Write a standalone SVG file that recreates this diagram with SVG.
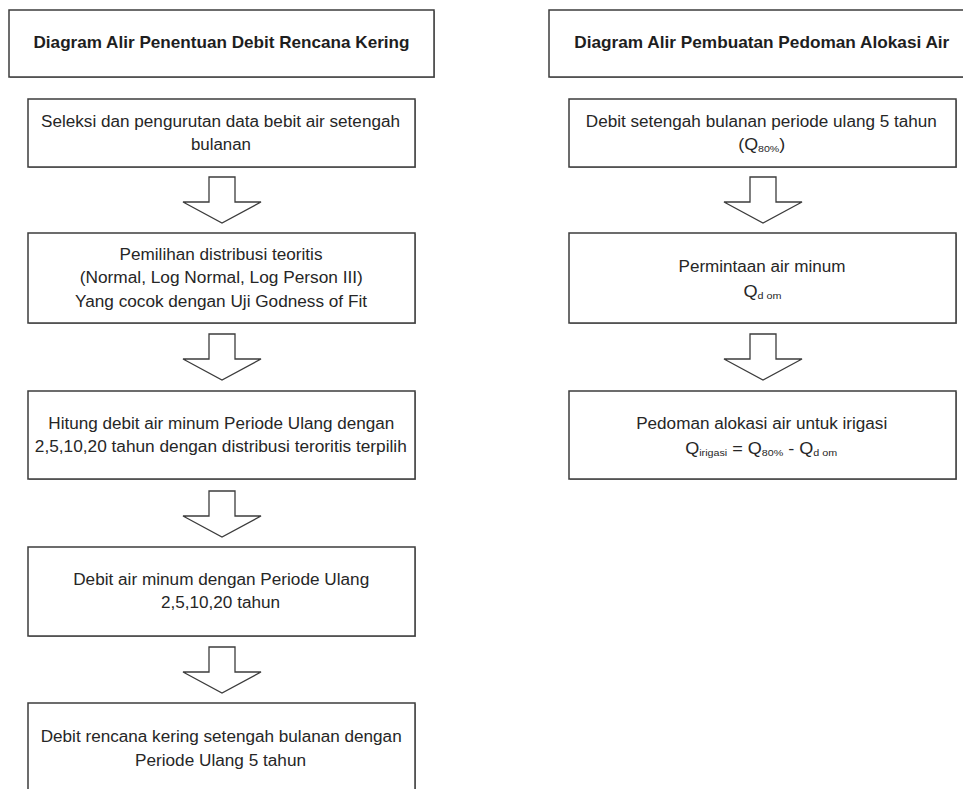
<svg xmlns="http://www.w3.org/2000/svg" width="963" height="789" viewBox="0 0 963 789">
  <style>
    .box { fill: #ffffff; stroke: #3c3c3c; stroke-width: 1.5; }
    .shadow { fill: #9a9a9a; }
    .arrow { fill: #ffffff; stroke: #3c3c3c; stroke-width: 1.3; stroke-linejoin: miter; }
    .t { font-family: "Liberation Sans", Arial, sans-serif; font-size: 16px; fill: #262626; text-anchor: middle; }
    .title { font-family: "Liberation Sans", Arial, sans-serif; font-size: 17px; font-weight: bold; fill: #1e1e1e; text-anchor: middle; }
    .sub { font-size: 9.5px; }
  </style>

  <!-- Left flow: Penentuan Debit Rencana Kering -->
  <g id="title-left">
    <rect class="shadow" x="10" y="11" width="425" height="67"/>
    <rect class="box" x="9" y="10" width="425" height="67"/>
    <text class="title" x="221.5" y="48" textLength="376" lengthAdjust="spacingAndGlyphs">Diagram Alir Penentuan Debit Rencana Kering</text>
  </g>

  <g id="step-seleksi">
    <rect class="shadow" x="29" y="100" width="387" height="68"/>
    <rect class="box" x="28" y="99" width="387" height="68"/>
    <text class="t" x="220.5" y="127" textLength="359" lengthAdjust="spacingAndGlyphs">Seleksi dan pengurutan data bebit air setengah</text>
    <text class="t" x="221" y="150" textLength="60" lengthAdjust="spacingAndGlyphs">bulanan</text>
  </g>

  <g id="step-distribusi">
    <rect class="shadow" x="29" y="234" width="387" height="90"/>
    <rect class="box" x="28" y="233" width="387" height="90"/>
    <text class="t" x="221" y="260" textLength="203" lengthAdjust="spacingAndGlyphs">Pemilihan distribusi teoritis</text>
    <text class="t" x="221.3" y="283" textLength="283" lengthAdjust="spacingAndGlyphs">(Normal, Log Normal, Log Person III)</text>
    <text class="t" x="221" y="307" textLength="292" lengthAdjust="spacingAndGlyphs">Yang cocok dengan Uji Godness of Fit</text>
  </g>

  <g id="step-hitung">
    <rect class="shadow" x="29" y="392" width="387" height="88"/>
    <rect class="box" x="28" y="391" width="387" height="88"/>
    <text class="t" x="221.3" y="429" textLength="346" lengthAdjust="spacingAndGlyphs">Hitung debit air minum Periode Ulang dengan</text>
    <text class="t" x="220.8" y="452" textLength="372" lengthAdjust="spacingAndGlyphs">2,5,10,20 tahun dengan distribusi teroritis terpilih</text>
  </g>

  <g id="step-debit-minum">
    <rect class="shadow" x="29" y="548" width="387" height="89"/>
    <rect class="box" x="28" y="547" width="387" height="89"/>
    <text class="t" x="221.2" y="585" textLength="296" lengthAdjust="spacingAndGlyphs">Debit air minum dengan Periode Ulang</text>
    <text class="t" x="220.5" y="608" textLength="119" lengthAdjust="spacingAndGlyphs">2,5,10,20 tahun</text>
  </g>

  <g id="step-rencana-kering">
    <rect class="shadow" x="29" y="704" width="387" height="95"/>
    <rect class="box" x="28" y="703" width="387" height="95"/>
    <text class="t" x="221.2" y="742" textLength="361" lengthAdjust="spacingAndGlyphs">Debit rencana kering setengah bulanan dengan</text>
    <text class="t" x="220.5" y="766" textLength="171" lengthAdjust="spacingAndGlyphs">Periode Ulang 5 tahun</text>
  </g>

  <!-- Right flow: Pembuatan Pedoman Alokasi Air -->
  <g id="title-right">
    <rect class="shadow" x="550" y="11" width="425" height="67"/>
    <rect class="box" x="549" y="10" width="425" height="67"/>
    <text class="title" x="761.8" y="48" textLength="375" lengthAdjust="spacingAndGlyphs">Diagram Alir Pembuatan Pedoman Alokasi Air</text>
  </g>

  <g id="step-q80">
    <rect class="shadow" x="570" y="100" width="387" height="68"/>
    <rect class="box" x="569" y="99" width="387" height="68"/>
    <text class="t" x="761.3" y="127" textLength="351" lengthAdjust="spacingAndGlyphs">Debit setengah bulanan periode ulang 5 tahun</text>
    <text class="t" x="761.7" y="150" textLength="47" lengthAdjust="spacingAndGlyphs">(Q<tspan class="sub" dy="2">80%</tspan><tspan dy="-2">)</tspan></text>
  </g>

  <g id="step-permintaan">
    <rect class="shadow" x="570" y="234" width="387" height="90"/>
    <rect class="box" x="569" y="233" width="387" height="90"/>
    <text class="t" x="762" y="272" textLength="167" lengthAdjust="spacingAndGlyphs">Permintaan air minum</text>
    <text class="t" x="762.5" y="297" textLength="38" lengthAdjust="spacingAndGlyphs">Q<tspan class="sub" dy="2">d om</tspan></text>
  </g>

  <g id="step-pedoman">
    <rect class="shadow" x="570" y="392" width="387" height="88"/>
    <rect class="box" x="569" y="391" width="387" height="88"/>
    <text class="t" x="761.7" y="429" textLength="251" lengthAdjust="spacingAndGlyphs">Pedoman alokasi air untuk irigasi</text>
    <text class="t" x="761.2" y="454" textLength="152" lengthAdjust="spacingAndGlyphs">Q<tspan class="sub" dy="2">irigasi</tspan><tspan dy="-2"> = Q</tspan><tspan class="sub" dy="2">80%</tspan><tspan dy="-2"> - Q</tspan><tspan class="sub" dy="2">d om</tspan></text>
  </g>

  <!-- Block arrows between steps -->
  <g id="connectors">
    <polygon class="arrow" points="209,177 235,177 235,202 261,202 222,223 183,202 209,202"/>
    <polygon class="arrow" points="209,334 235,334 235,359 261,359 222,380 183,359 209,359"/>
    <polygon class="arrow" points="209,491 235,491 235,516 261,516 222,537 183,516 209,516"/>
    <polygon class="arrow" points="209,647 235,647 235,672 261,672 222,693 183,672 209,672"/>
    <polygon class="arrow" points="750,177 776,177 776,202 802,202 763,223 724,202 750,202"/>
    <polygon class="arrow" points="750,334 776,334 776,359 802,359 763,380 724,359 750,359"/>
  </g>
</svg>
